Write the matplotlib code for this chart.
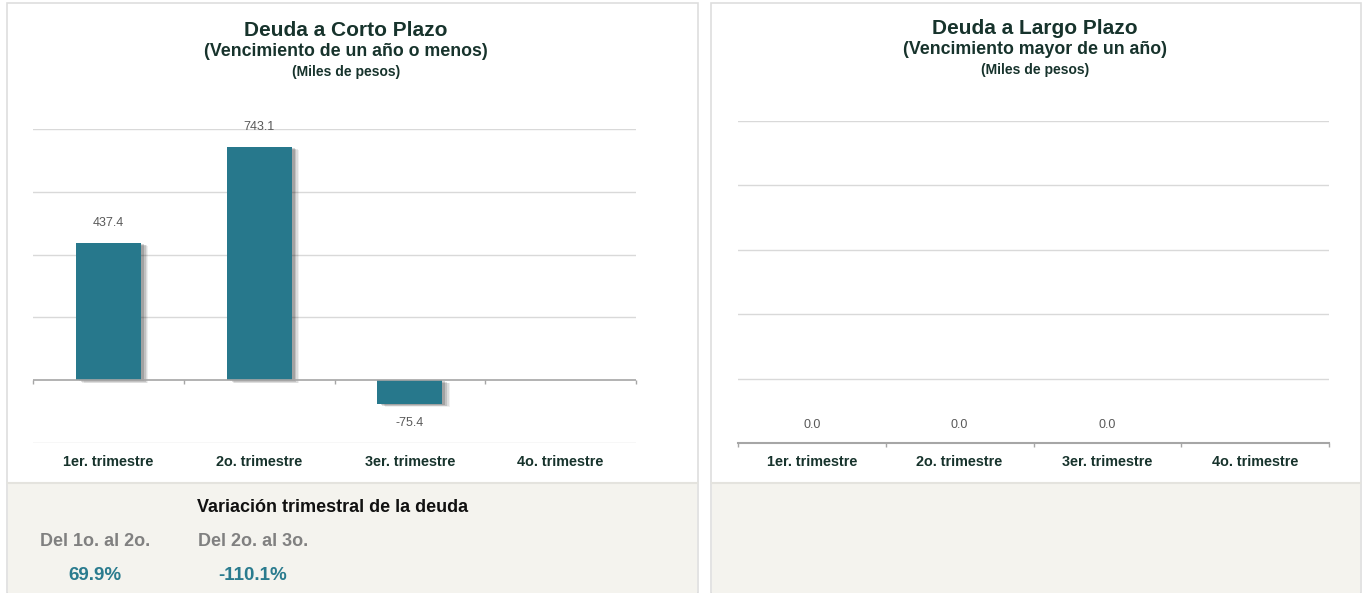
import matplotlib.pyplot as plt
import matplotlib.patheffects as pe
from matplotlib.patches import Rectangle
from matplotlib.transforms import blended_transform_factory

plt.rcParams['font.family'] = ['Liberation Sans', 'DejaVu Sans']

# datos
trimestres = ["1er. trimestre", "2o. trimestre", "3er. trimestre", "4o. trimestre"]
corto_plazo = [437.4, 743.1, -75.4]
largo_plazo = [0.0, 0.0, 0.0]
variacion_etiquetas = ["Del 1o. al 2o.", "Del 2o. al 3o."]
variacion_valores = ["69.9%", "-110.1%"]

W, H = 1363, 593
fig = plt.figure(figsize=(W / 100, H / 100), dpi=100, facecolor='white')

teal = '#27788c'
dark = '#17332c'
grid_c = '#d9d9d9'
axis_c = '#a6a6a6'
beige = '#f4f3ee'


def fx(px):
    return px / W


def fy(py):
    return 1 - py / H


def panel(x0, x1):
    # fondo blanco + franja beige inferior
    fig.add_artist(Rectangle((fx(x0), 0), fx(x1 - x0), fy(3), transform=fig.transFigure,
                             facecolor='white', edgecolor='#dedede', linewidth=1.2, zorder=0))
    fig.add_artist(Rectangle((fx(x0 + 1), 0), fx(x1 - x0 - 2), fy(483), transform=fig.transFigure,
                             facecolor=beige, edgecolor='none', zorder=0.5))
    fig.add_artist(plt.Line2D([fx(x0 + 1), fx(x1 - 1)], [fy(483), fy(483)], transform=fig.transFigure,
                              color='#e4e3de', linewidth=1.5, zorder=0.6))


def titulos(cx, y0, t1, t2):
    fig.text(fx(cx), fy(y0), t1, ha='center', va='center', fontsize=15, fontweight='bold', color=dark)
    fig.text(fx(cx), fy(y0 + 21), t2, ha='center', va='center', fontsize=12.8, fontweight='bold', color=dark)
    fig.text(fx(cx), fy(y0 + 42), "(Miles de pesos)", ha='center', va='center', fontsize=10,
             fontweight='bold', color=dark)


def ejes_categoria(ax, ybase, tick_len):
    n = len(trimestres)
    bordes = [i - 0.5 for i in range(n + 1)]
    ax.vlines(bordes, ybase - tick_len, ybase, color=axis_c, linewidth=1, zorder=3, clip_on=False)
    tr = blended_transform_factory(ax.transData, ax.transAxes)
    for i, t in enumerate(trimestres):
        ax.text(i, -0.06, t, transform=tr, ha='center', va='center', fontsize=10.4,
                fontweight='bold', color=dark, clip_on=False)
    ax.set_xlim(-0.5, n - 0.5)
    ax.set_xticks([])
    ax.set_yticks([])
    for s in ax.spines.values():
        s.set_visible(False)
    ax.set_facecolor('none')


sombra = [pe.SimplePatchShadow(offset=(5.5, -2.2), shadow_rgbFace='#000000', alpha=0.06),
          pe.SimplePatchShadow(offset=(4.5, -1.8), shadow_rgbFace='#000000', alpha=0.08),
          pe.SimplePatchShadow(offset=(3.5, -1.4), shadow_rgbFace='#000000', alpha=0.12),
          pe.SimplePatchShadow(offset=(2.2, -0.9), shadow_rgbFace='#000000', alpha=0.16),
          pe.Normal()]

# ---- panel izquierdo: corto plazo ----
panel(7, 698)
titulos(346, 30, "Deuda a Corto Plazo", "(Vencimiento de un año o menos)")

ax1 = fig.add_axes([fx(33), fy(443), fx(636 - 33), (443 - 129) / H])
ax1.set_ylim(-200, 800)
for g in [-200, 200, 400, 600, 800]:
    ax1.axhline(g, color=grid_c, linewidth=1, zorder=0)
ax1.axhline(0, color=axis_c, linewidth=1.2, zorder=3)
x1 = list(range(len(corto_plazo)))
bars = ax1.bar(x1, corto_plazo, width=0.43, color=teal, zorder=2)
for b in bars:
    b.set_path_effects(sombra)
for xi, v in zip(x1, corto_plazo):
    ax1.annotate(f"{v:.1f}", (xi, v), xytext=(0, 14 if v >= 0 else -14), textcoords='offset points',
                 ha='center', va='center', fontsize=9, color='#595959')
ejes_categoria(ax1, 0, 13)

# variación trimestral
fig.text(fx(333), fy(507), "Variación trimestral de la deuda", ha='center', va='center',
         fontsize=13, fontweight='bold', color='#111111')
for cx, lab, val in zip([95, 253], variacion_etiquetas, variacion_valores):
    fig.text(fx(cx), fy(541), lab, ha='center', va='center', fontsize=13, fontweight='bold', color='#808080')
    fig.text(fx(cx), fy(575), val, ha='center', va='center', fontsize=13.5,
             fontweight='bold', color='#2a7b8e')

# ---- panel derecho: largo plazo ----
panel(711, 1361)
titulos(1035, 28, "Deuda a Largo Plazo", "(Vencimiento mayor de un año)")

ax2 = fig.add_axes([fx(738), fy(443), fx(1329 - 738), (443 - 121) / H])
ax2.set_ylim(0, 5)
for g in [1, 2, 3, 4, 5]:
    ax2.axhline(g, color=grid_c, linewidth=1, zorder=0)
ax2.axhline(0, color=axis_c, linewidth=1.5, zorder=3, clip_on=False)
x2 = list(range(len(largo_plazo)))
ax2.bar(x2, largo_plazo, width=0.43, color=teal, zorder=2)
for xi, v in zip(x2, largo_plazo):
    ax2.annotate(f"{v:.1f}", (xi, v), xytext=(0, 13), textcoords='offset points',
                 ha='center', va='center', fontsize=9, color='#595959')
ejes_categoria(ax2, 0, 0.06)

fig.savefig('out.png', dpi=100, facecolor='white')
